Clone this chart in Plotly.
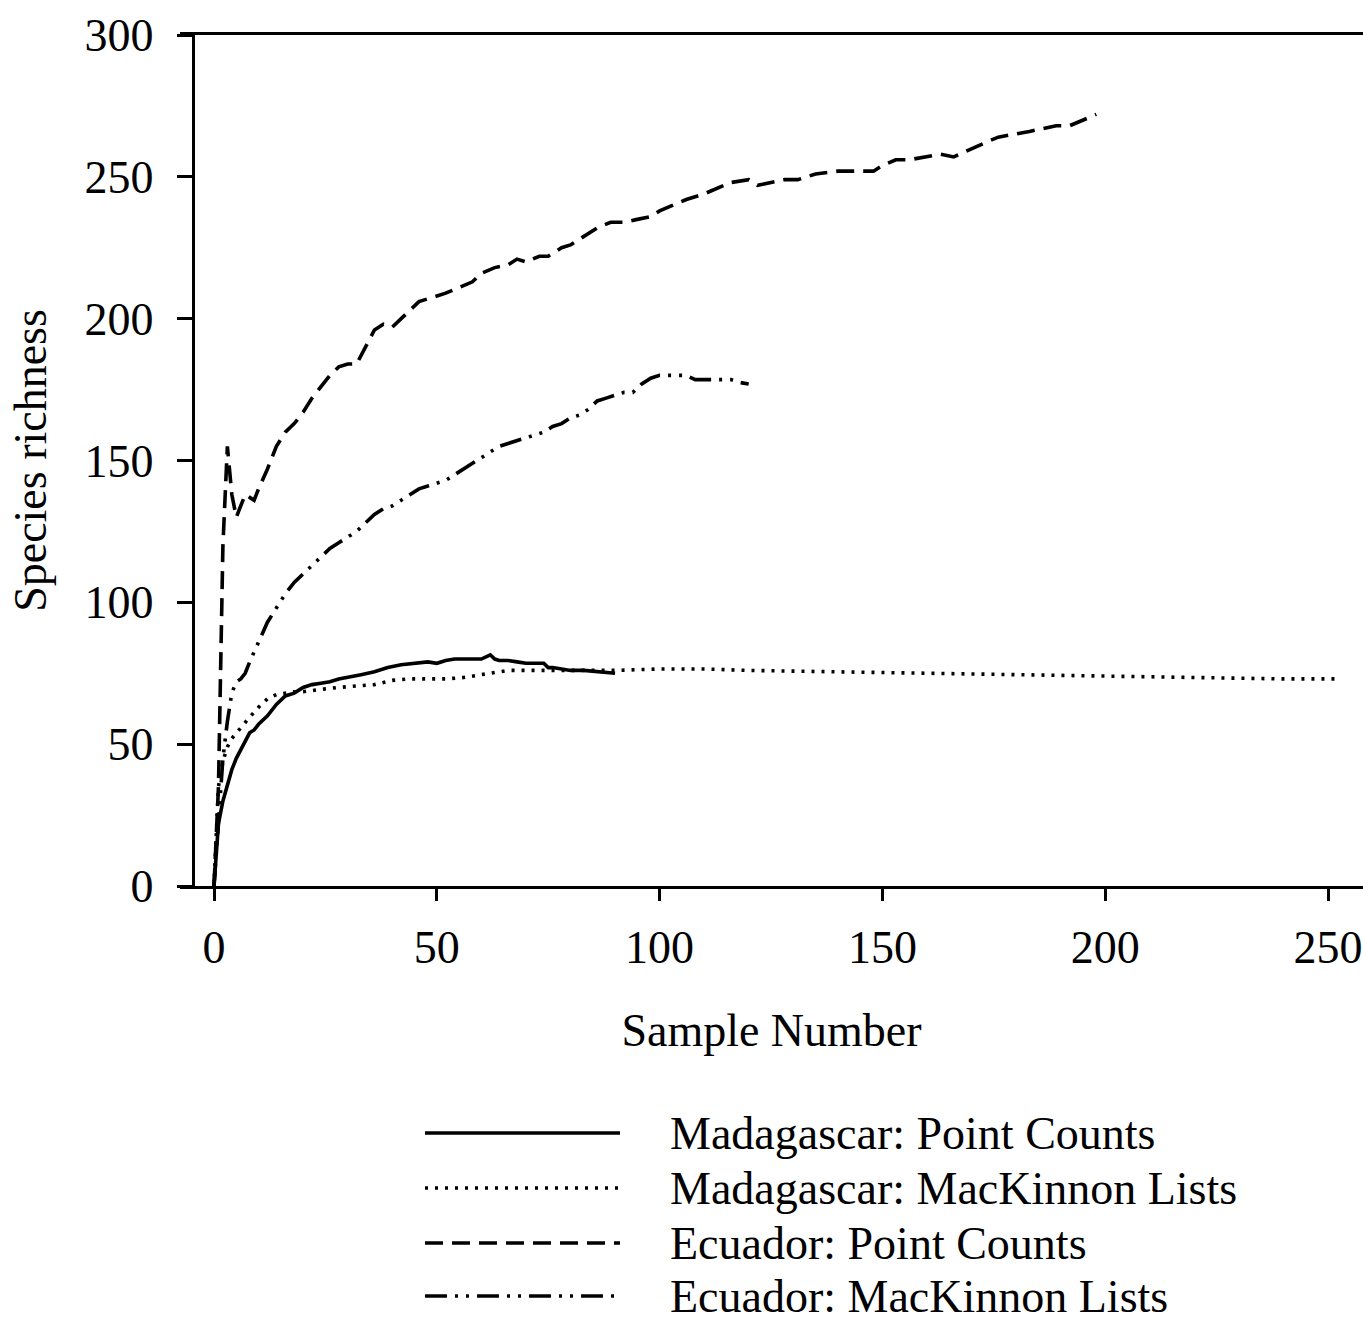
import plotly.graph_objects as go

# ---------------- data ----------------
mad_pc_x = [0, 1, 2, 3, 4, 5, 6, 7, 8, 9, 10, 12, 14, 16, 18, 20, 22, 24, 26, 28, 30, 33, 36, 39, 42,
            45, 48, 50, 52, 54, 56, 58, 60, 62, 63, 64, 66, 68, 70, 72, 74, 75, 76, 78, 80, 83, 86, 90]
mad_pc_y = [0, 22, 30, 36, 41, 45, 48, 51, 54, 55, 57, 60, 64, 67, 68, 70, 71, 71.5, 72, 73, 73.5, 74.5,
            75.5, 77, 78, 78.5, 79, 78.5, 79.5, 80, 80, 80, 80, 81.5, 80, 79.5, 79.5, 79, 78.5, 78.5,
            78.5, 77, 77, 76.5, 76, 76, 75.5, 75]

mad_mk_x = [0, 1, 2, 3, 4, 5, 6, 8, 10, 12, 14, 16, 18, 20, 22, 25, 28, 32, 36, 40, 44, 48, 52, 56, 60,
            63, 66, 70, 75, 80, 90, 100, 110, 120, 140, 160, 180, 200, 220, 240, 253]
mad_mk_y = [0, 35, 44, 49, 52, 54, 56, 59.5, 63, 66, 67.5, 68, 68.5, 68.5, 69, 69.5, 70, 70.5, 71, 72.5,
            73, 73, 73, 73.5, 74.5, 75.5, 76, 76, 76, 76, 76, 76.5, 76.5, 76, 75.5, 75, 74.5, 74, 73.5,
            73, 73]

ecu_pc_x = [0, 1, 2, 3, 4, 5, 6, 7, 8, 9, 10, 12, 14, 16, 18, 20, 22, 24, 26, 28, 30, 32, 34, 36, 38, 40,
            42, 44, 46, 48, 50, 52, 55, 58, 60, 63, 66, 68, 70, 73, 75, 78, 80, 83, 86, 89, 92, 95, 98,
            100, 103, 106, 110, 113, 116, 120, 122, 125, 128, 131, 135, 140, 145, 148, 150, 153, 156,
            160, 163, 166, 170, 173, 176, 180, 183, 186, 189, 192, 195, 198]
ecu_pc_y = [0, 35, 120, 155, 138, 130, 134, 138, 137, 136, 140, 147, 155, 160, 163, 167, 172, 176, 180,
            183, 184, 184, 190, 196, 198, 197, 200, 203, 206, 207, 208, 209, 211, 213, 216, 218, 219,
            221, 220, 222, 222, 225, 226, 229, 232, 234, 234, 235, 236, 238, 240, 242, 244, 246, 248,
            249, 247, 248, 249, 249, 251, 252, 252, 252, 254, 256, 256, 257, 258, 257, 260, 262, 264,
            265, 266, 267, 268, 268, 270, 272]

ecu_mk_x = [0, 1, 2, 3, 4, 5, 6, 7, 8, 10, 12, 14, 16, 18, 20, 22, 24, 26, 28, 30, 32, 34, 36, 38, 40,
            42, 44, 46, 48, 50, 52, 54, 56, 58, 60, 62, 64, 66, 68, 70, 72, 74, 76, 78, 80, 82, 84, 86,
            88, 90, 92, 94, 96, 98, 100, 102, 104, 106, 108, 110, 112, 114, 116, 118, 120]
ecu_mk_y = [0, 25, 45, 58, 68, 72, 73, 75, 79, 86, 93, 98, 103, 107, 110, 113, 116, 119, 121, 123, 125,
            128, 131, 133, 134, 136, 138, 140, 141, 142, 143, 145, 147, 149, 151, 153, 155, 156, 157,
            158, 159, 160, 162, 163, 165, 166, 168, 171, 172, 173, 174, 174, 177, 179, 180, 180, 180,
            180, 178.5, 178.5, 178.5, 178.5, 178.5, 177.5, 177]

series_names = ["Madagascar: Point Counts", "Madagascar: MacKinnon Lists",
                "Ecuador: Point Counts", "Ecuador: MacKinnon Lists"]
x_ticks = [0, 50, 100, 150, 200, 250]
y_ticks = [0, 50, 100, 150, 200, 250, 300]

# ---------------- styling ----------------
FONT = "Liberation Serif, Times New Roman, serif"
FS = 46
W, H = 1363, 1329
ML, MR, MT, MB = 180, 0, 35, 443
PW, PH = W - ML - MR, H - MT - MB

dashes = ["solid", "3px,7px", "18px,9px", "22px,8px,3px,8px,3px,8px"]
widths = [3.6, 3.6, 3.6, 3.6]
data = [(mad_pc_x, mad_pc_y), (mad_mk_x, mad_mk_y), (ecu_pc_x, ecu_pc_y), (ecu_mk_x, ecu_mk_y)]

fig = go.Figure()
for (xs, ys), name, d, w in zip(data, series_names, dashes, widths):
    fig.add_trace(go.Scatter(x=xs, y=ys, mode="lines", name=name,
                             line=dict(color="black", width=w, dash=d),
                             showlegend=False))

# x range such that 0 -> 214px and 250 -> 1328px
px_per_unit = (1328 - 214) / 250
x0 = -(214 - ML) / px_per_unit
x1 = x0 + PW / px_per_unit
yaxis_pos = (192.7 - ML) / PW

fig.update_layout(
    width=W, height=H,
    margin=dict(l=ML, r=MR, t=MT, b=MB, pad=0),
    paper_bgcolor="white", plot_bgcolor="white",
    font=dict(family=FONT, size=FS, color="black"),
    showlegend=False,
    xaxis=dict(range=[x0, x1], tickvals=x_ticks, ticktext=[str(v) for v in x_ticks],
               showgrid=False, zeroline=False, showline=True, linecolor="black", linewidth=3,
               mirror=True, ticks="outside", ticklen=12, tickwidth=3, tickcolor="black",
               ticklabelstandoff=7,
               tickfont=dict(family=FONT, size=FS, color="black"),
               title=dict(text="Sample Number", font=dict(family=FONT, size=FS, color="black"),
                          standoff=42)),
    yaxis=dict(range=[0, 300], tickvals=y_ticks, ticktext=[str(v) for v in y_ticks],
               anchor="free", position=yaxis_pos,
               showgrid=False, zeroline=False, showline=True, linecolor="black", linewidth=3,
               ticks="outside", ticklen=15, tickwidth=3, tickcolor="black",
               ticklabelstandoff=14,
               tickfont=dict(family=FONT, size=FS, color="black"),
               title=dict(text="Species richness", font=dict(family=FONT, size=FS, color="black"),
                          standoff=22)),
)

# custom legend drawn below the plot (long line samples as in the reference)
row_px = [1133, 1188, 1243, 1296]
line_x0_px, line_x1_px, text_x_px = 425, 620, 668


def px_to_paper_x(px):
    return (px - ML) / PW


def px_to_paper_y(py):
    return (MT + PH - py) / PH


for name, d, w, ry in zip(series_names, dashes, widths, row_px):
    fig.add_shape(type="line", xref="paper", yref="paper",
                  x0=px_to_paper_x(line_x0_px), x1=px_to_paper_x(line_x1_px),
                  y0=px_to_paper_y(ry), y1=px_to_paper_y(ry),
                  line=dict(color="black", width=w, dash=d))
    fig.add_annotation(text=name, xref="paper", yref="paper",
                       x=px_to_paper_x(text_x_px), y=px_to_paper_y(ry),
                       xanchor="left", yanchor="middle", showarrow=False,
                       font=dict(family=FONT, size=FS, color="black"))

fig.write_html("out.html")
